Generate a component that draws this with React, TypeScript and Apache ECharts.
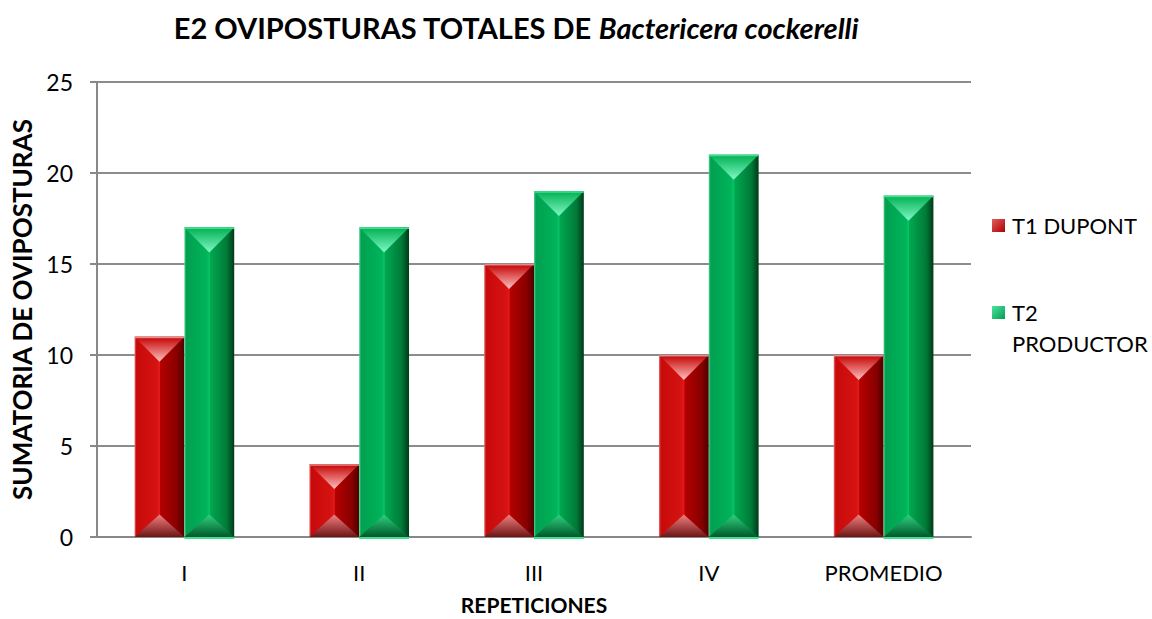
import React, { useEffect, useRef } from "react";
import * as echarts from "echarts";

const categories = ["I", "II", "III", "IV", "PROMEDIO"];
const seriesNames = ["T1 DUPONT", "T2 PRODUCTOR"];
const t1Values = [11, 4, 15, 10, 10];
const t2Values = [17, 17, 19, 21, 18.75];
const yTicks = { min: 0, max: 25, interval: 5 };

const FONT = "Lato, 'Liberation Sans', sans-serif";

const palettes = [
  {
    bodyStops: [
      [0, "#e07070"],
      [0.04, "#c80a0a"],
      [0.45, "#d61212"],
      [0.5, "#e41a1a"],
      [0.52, "#b50000"],
      [0.85, "#880000"],
      [1, "#4e0000"],
    ],
    topA: "#c40000",
    topB: "#ffc0c0",
    botTip: "#f08080",
    botBase: "#6e1414",
    legend: "#b00000",
    legendLight: "#e06060",
    edge: "#e88a8a",
  },
  {
    bodyStops: [
      [0, "#50d090"],
      [0.04, "#00a050"],
      [0.45, "#00b45a"],
      [0.5, "#08c466"],
      [0.52, "#00a850"],
      [0.85, "#007a38"],
      [1, "#003a18"],
    ],
    topA: "#00b050",
    topB: "#80f8c8",
    botTip: "#30d080",
    botBase: "#00582a",
    legend: "#00a050",
    legendLight: "#50e0a0",
    edge: "#40e090",
  },
];

function makeRender(si: number) {
  const p = palettes[si];
  return (params: any, api: any) => {
    const ci = api.value(0);
    const v = api.value(1);
    const base = api.coord([ci, 0]);
    const top = api.coord([ci, v]);
    const band = api.size([1, 0])[0];
    const bw = (band * (1 - 0.43)) / 2;
    const x0 = base[0] - bw + si * bw;
    const x1 = x0 + bw;
    const xm = (x0 + x1) / 2;
    const yT = top[1];
    const yB = base[1];
    const h = yB - yT;
    const bev = Math.min(bw * 0.5, h / 2);
    const bevB = Math.min(bw * 0.45, h / 2);
    const children: any[] = [
      {
        type: "rect",
        shape: { x: x0, y: yT, width: bw, height: h },
        style: {
          fill: new echarts.graphic.LinearGradient(
            0, 0, 1, 0,
            p.bodyStops.map((s: any) => ({ offset: s[0], color: s[1] }))
          ),
        },
      },
      {
        type: "polygon",
        shape: { points: [[x0, yT], [x1, yT], [xm, yT + bev]] },
        style: {
          fill: new echarts.graphic.LinearGradient(0, 0, 0, 1, [
            { offset: 0, color: p.topA },
            { offset: 1, color: p.topB },
          ]),
        },
      },
      {
        type: "polygon",
        shape: { points: [[x0, yB], [x1, yB], [xm, yB - bevB]] },
        style: {
          fill: new echarts.graphic.LinearGradient(0, 0, 0, 1, [
            { offset: 0, color: p.botTip },
            { offset: 1, color: p.botBase },
          ]),
        },
      },
      {
        type: "rect",
        shape: { x: x0, y: yT, width: bw, height: 1.5 },
        style: { fill: p.edge },
      },
    ];
    if (si === 1) {
      children.push({
        type: "rect",
        shape: { x: x0, y: yB, width: bw, height: 2 },
        style: { fill: p.edge },
      });
    }
    return { type: "group", children };
  };
}

export default function App() {
  const ref = useRef<HTMLDivElement>(null);
  useEffect(() => {
    if (!ref.current) return;
    const chart = echarts.init(ref.current, undefined, { renderer: "svg" });
    const allValues = [t1Values, t2Values];
    const legendY = [225, 312];
    const legendGraphics: any[] = [];
    seriesNames.forEach((n, i) => {
      legendGraphics.push({
        type: "rect",
        left: 992,
        top: legendY[i] - 6,
        shape: { width: 13, height: 13 },
        style: {
          fill: new echarts.graphic.LinearGradient(0, 0, 1, 1, [
            { offset: 0, color: palettes[i].legendLight },
            { offset: 1, color: palettes[i].legend },
          ]),
        },
      });
      const lines = i === 1 ? n.replace(" ", "\n") : n;
      legendGraphics.push({
        type: "text",
        left: 1012,
        top: legendY[i] - 15,
        style: {
          text: lines,
          font: `400 22px ${FONT}`,
          fill: "#000",
          lineHeight: 31,
        },
      });
    });
    chart.setOption({
      animation: false,
      backgroundColor: "#fff",
      title: {
        text: "E2 OVIPOSTURAS TOTALES DE {i|Bactericera cockerelli}",
        left: 511,
        textAlign: "center",
        top: 8,
        textStyle: {
          fontFamily: FONT,
          fontWeight: "bold",
          fontSize: 29,
          color: "#000",
          rich: {
            i: {
              fontFamily: FONT,
              fontWeight: "bold",
              fontStyle: "italic",
              fontSize: 29,
              color: "#000",
            },
          },
        },
      },
      grid: { left: 97, right: 181, top: 82, bottom: 82, outerBoundsMode: "none" },
      xAxis: {
        type: "category",
        data: categories,
        name: "REPETICIONES",
        nameLocation: "middle",
        nameGap: 57,
        nameTextStyle: { fontFamily: FONT, fontWeight: "bold", fontSize: 21, color: "#000" },
        axisLine: { lineStyle: { color: "#888", width: 2 } },
        axisTick: { show: false },
        axisLabel: { fontFamily: FONT, fontSize: 22, color: "#000", margin: 24 },
      },
      yAxis: {
        type: "value",
        min: yTicks.min,
        max: yTicks.max,
        interval: yTicks.interval,
        name: "SUMATORIA DE OVIPOSTURAS",
        nameLocation: "middle",
        nameGap: 58,
        nameRotate: 90,
        nameTextStyle: { fontFamily: FONT, fontWeight: "bold", fontSize: 26, color: "#000" },
        axisLine: { show: true, lineStyle: { color: "#888", width: 2 } },
        axisTick: { show: true, length: 7, lineStyle: { color: "#888", width: 2 } },
        axisLabel: { fontFamily: FONT, fontSize: 23, color: "#000", margin: 24 },
        splitLine: { lineStyle: { color: "#8c8c8c", width: 2 } },
      },
      series: seriesNames.map((n, i) => ({
        name: n,
        type: "custom",
        renderItem: makeRender(i),
        encode: { x: 0, y: 1 },
        data: allValues[i].map((v, ci) => [ci, v]),
        itemStyle: { color: palettes[i].legend },
        z: 3,
      })),
      graphic: legendGraphics,
    });
    return () => chart.dispose();
  }, []);
  return (
    <div
      ref={ref}
      style={{ position: "fixed", left: 0, top: 0, width: 1152, height: 619 }}
    />
  );
}
